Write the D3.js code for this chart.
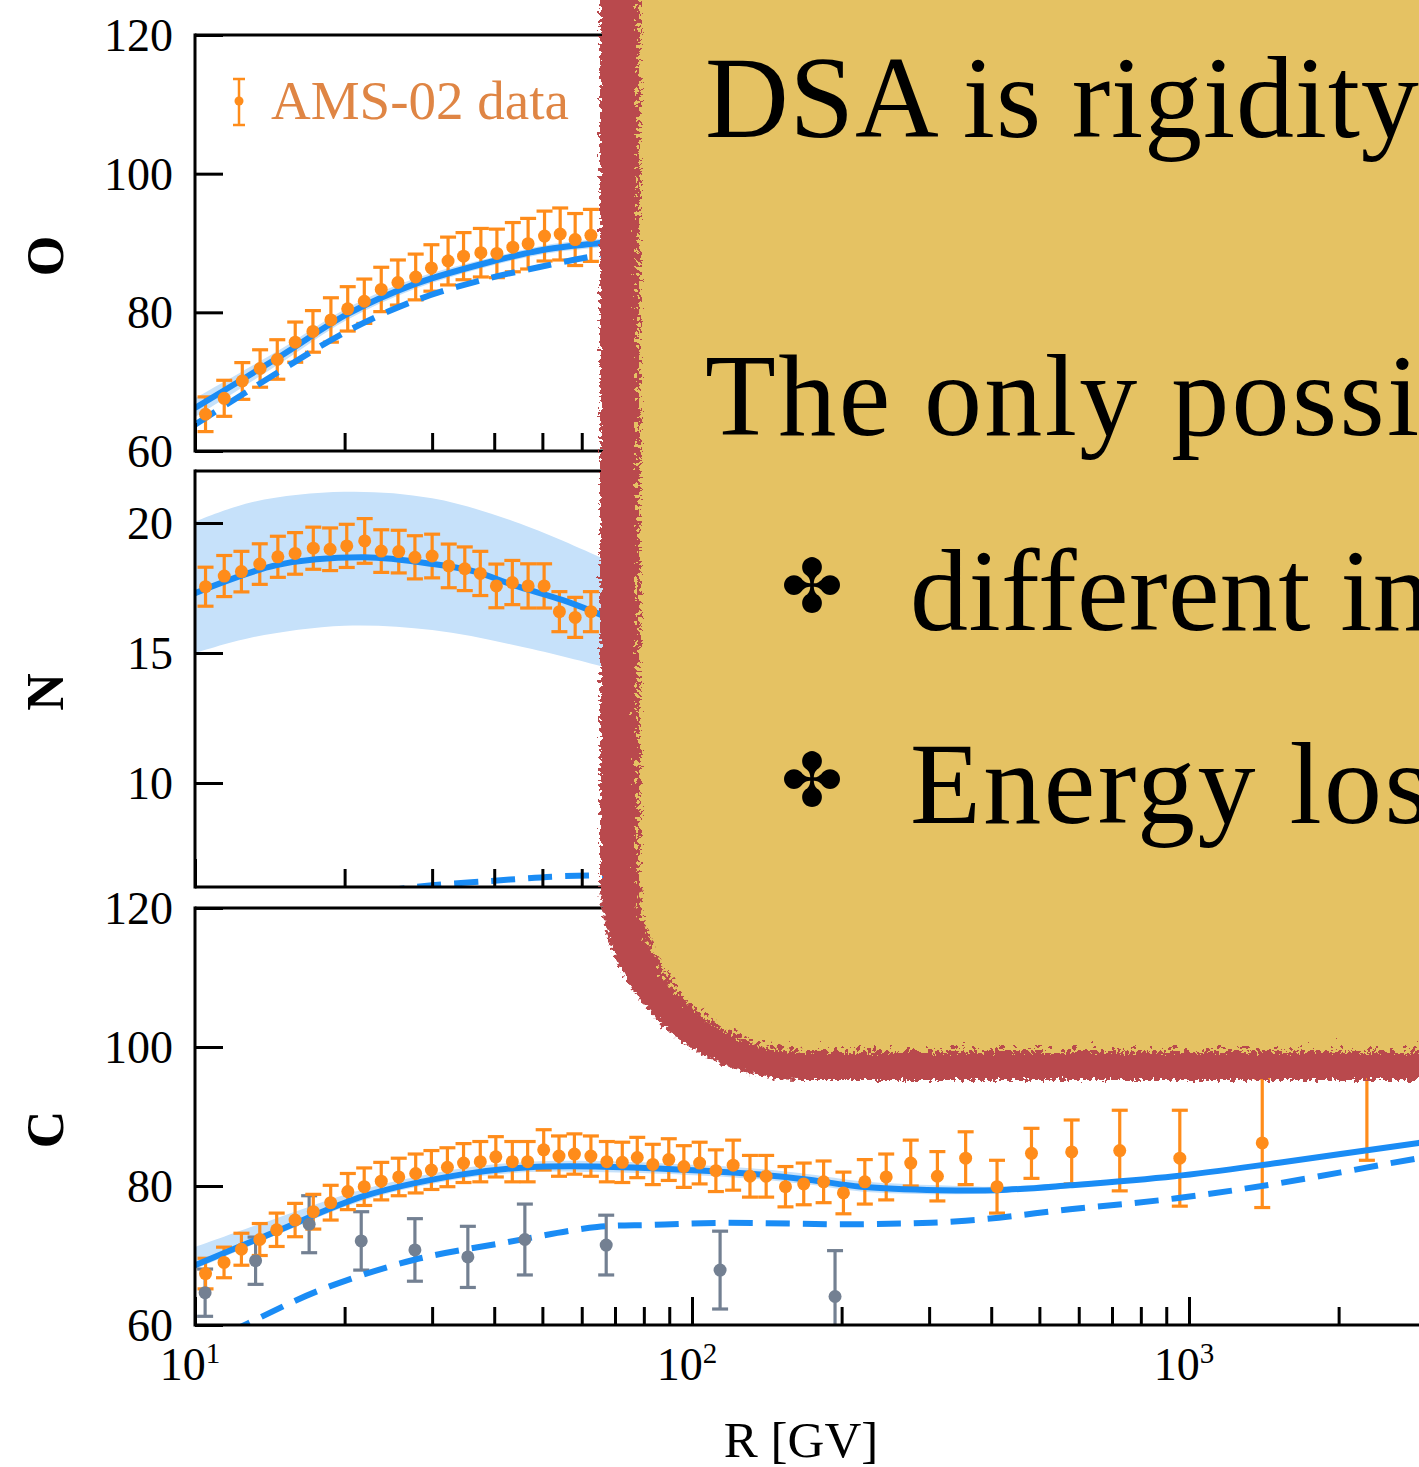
<!DOCTYPE html>
<html>
<head>
<meta charset="utf-8">
<script src="https://cdn.jsdelivr.net/npm/d3@7"></script>
<style>
  html, body { margin: 0; padding: 0; background: #fff; }
  svg { display: block; }
</style>
</head>
<body>
<svg id="chart" width="1419" height="1467"></svg>
<script>
// ---------------- data ----------------
// Oxygen flux ratio, AMS-02 points
const oxyR   = [10.5, 11.45, 12.45, 13.52, 14.64, 15.91, 17.27, 18.77, 20.29, 21.91, 23.7, 25.6, 27.8, 29.9, 32.3, 34.7, 37.6, 40.5, 43.6, 46.8, 50.5, 54.3, 58.2, 62.6];
const oxyVal = [65.3, 67.6, 70.1, 71.9, 73.2, 75.7, 77.25, 78.9, 80.5, 81.6, 83.3, 84.3, 85.1, 86.4, 87.4, 88.1, 88.6, 88.5, 89.4, 89.9, 91.0, 91.3, 90.5, 91.1];
const oxyErr = [2.5, 2.6, 2.65, 2.7, 2.85, 2.9, 3.0, 3.2, 3.2, 3.2, 3.2, 3.25, 3.3, 3.35, 3.45, 3.4, 3.5, 3.5, 3.55, 3.65, 3.6, 3.75, 3.75, 3.75];
// Oxygen model curves
const oxyModelR  = [10, 14.8, 20.2, 27.5, 37.5, 51, 65.3, 75];
const oxyModel   = [66.2, 73.6, 79.7, 84.0, 86.9, 89.1, 90.0, 90.6];
const oxyBandLo  = [64.9, 72.6, 78.9, 83.3, 86.3, 88.5, 89.4, 90.0];
const oxyBandHi  = [67.6, 74.6, 80.6, 84.8, 87.5, 89.7, 90.6, 91.2];
const oxyDashed  = [63.8, 71.5, 77.25, 81.6, 84.6, 86.75, 88.25, 88.8];

// Nitrogen
const nitR   = [10.5, 11.45, 12.4, 13.5, 14.68, 15.9, 17.3, 18.7, 20.2, 21.95, 23.7, 25.7, 27.7, 30.0, 32.4, 34.9, 37.5, 40.4, 43.5, 46.8, 50.4, 54.1, 58.2, 62.6];
const nitVal = [17.55, 17.96, 18.13, 18.42, 18.7, 18.83, 19.03, 18.99, 19.12, 19.31, 18.92, 18.9, 18.68, 18.73, 18.35, 18.24, 18.06, 17.58, 17.71, 17.58, 17.58, 16.59, 16.37, 16.59];
const nitErr = [0.75, 0.79, 0.78, 0.78, 0.79, 0.8, 0.81, 0.82, 0.83, 0.86, 0.82, 0.82, 0.83, 0.84, 0.84, 0.84, 0.85, 0.84, 0.85, 0.85, 0.85, 0.77, 0.77, 0.77];
const nitModelR = [10, 14.6, 21.9, 30.4, 36.6, 43.9, 54.8, 63.1, 75];
const nitModel  = [17.3, 18.38, 18.68, 18.41, 18.13, 17.6, 17.04, 16.6, 16.0];
const nitBandR  = [10, 13, 20, 30, 44, 66.9, 80];
const nitBandLo = [15.0, 15.6, 16.05, 15.88, 15.3, 14.45, 14.0];
const nitBandHi = [20.05, 20.8, 21.2, 20.95, 20.05, 18.6, 17.9];
const nitDashR  = [20, 25, 30, 40, 52.7, 65.6, 80];
const nitDashed = [5.5, 5.88, 6.07, 6.24, 6.4, 6.46, 6.55];

// Carbon, AMS-02 points
const carR   = [10.5, 11.44, 12.4, 13.5, 14.6, 15.9, 17.3, 18.75, 20.3, 21.9, 23.7, 25.7, 27.8, 29.9, 32.2, 34.7, 37.5, 40.3, 43.5, 46.7, 50.3, 54.0, 58.0, 62.6, 67.4, 72.4, 77.6, 83.4, 89.8, 96.3, 103.6, 111.7, 121, 130.8, 141, 154.2, 167.8, 184, 201.7, 222.7, 245.9, 275.5, 311.7, 355.3, 410.9, 482, 580.7, 725.5, 958.3, 1404, 2280];
const carVal = [67.4, 69.0, 70.9, 72.3, 73.7, 75.1, 76.3, 77.6, 79.2, 79.9, 80.7, 81.3, 81.8, 82.3, 82.7, 83.3, 83.5, 84.2, 83.5, 83.5, 85.2, 84.3, 84.6, 84.3, 83.5, 83.4, 84.1, 83.1, 83.8, 82.8, 83.3, 82.2, 83.0, 81.4, 81.4, 79.9, 80.3, 80.6, 79.0, 80.6, 81.3, 83.3, 81.4, 84.0, 79.9, 84.7, 84.9, 85.1, 84.0, 86.2, 98.0];
const carErr = [2.2, 2.2, 2.3, 2.3, 2.4, 2.4, 2.5, 2.5, 2.6, 2.7, 2.7, 2.7, 2.8, 2.8, 2.8, 2.8, 2.9, 2.9, 2.9, 2.9, 2.9, 2.9, 2.9, 2.9, 2.9, 2.9, 2.9, 2.9, 3.0, 3.0, 3.0, 3.0, 3.6, 3.0, 3.0, 2.9, 3.0, 3.0, 3.0, 3.2, 3.3, 3.3, 3.55, 3.8, 3.8, 3.6, 4.6, 5.8, 6.9, 9.3, 14.3];
// Carbon, second data set (grey)
const carOtherR   = [10.48, 13.24, 16.97, 21.6, 27.7, 35.4, 46.1, 67.2, 113.9, 194];
const carOtherVal = [64.65, 69.25, 74.5, 72.1, 70.8, 69.8, 72.3, 71.5, 67.9, 64.1];
const carOtherErr = [3.4, 3.4, 4.1, 4.2, 4.5, 4.4, 5.1, 4.3, 5.6, 6.6];
// Carbon model curves
const carModelR = [10, 14.5, 22, 34, 47, 64, 98, 135, 172, 219, 315, 411, 576, 935, 1517, 2900, 4000];
const carModel  = [68.6, 73.4, 78.6, 81.6, 82.7, 82.8, 82.3, 81.7, 80.9, 79.9, 79.4, 79.4, 80.1, 81.4, 83.35, 86.2, 87.6];
const carBandLo = [68.0, 72.9, 78.0, 81.0, 82.0, 82.0, 81.6, 81.0, 80.2, 79.2, 78.8, 79.0, 79.8, 81.1, 83.1, 86.0, 87.4];
const carBandHi = [71.2, 75.3, 79.6, 82.5, 83.5, 83.6, 83.1, 82.5, 81.7, 80.7, 80.1, 79.9, 80.5, 81.7, 83.6, 86.4, 87.8];
const carDashR  = [10, 12.78, 17.96, 27.5, 42, 64.4, 83.1, 113.8, 219, 355, 576, 935, 1517, 2900, 4000];
const carDashed = [56.5, 60.24, 65.1, 69.35, 71.85, 74.1, 74.4, 74.7, 74.5, 75.0, 76.65, 78.2, 80.4, 84.0, 85.6];

// axis ticks
const majorR = [10, 100, 1000];
const minorR = [20, 30, 40, 50, 60, 70, 80, 90, 200, 300, 400, 500, 600, 700, 800, 900, 2000, 3000, 4000, 5000, 6000, 7000, 8000, 9000];
const oxyTicks = [60, 80, 100, 120];
const nitTicks = [10, 15, 20];
const carTicks = [60, 80, 100, 120];

// callout text
const calloutLines = ["DSA is rigidity dependent", "The only possibility", "different injection", "Energy losses"];

// ---------------- drawing ----------------
const W = 1419, H = 1467;
const SERIF = "'Liberation Serif', 'Times New Roman', serif";
const ORANGE = "#ff8c1a", GREY = "#738092", BLUE = "#1a8cf5";
const LEFT = 195;

const svg = d3.select("#chart");
const defs = svg.append("defs");

// shared rigidity axis
const x = d3.scaleLog().domain([10, 1e4]).range([LEFT, 1686]);

const panels = [
  { key: "O", title: "O", top: 35, bottom: 451, domain: [60, 120], ticks: oxyTicks,
    bandR: oxyModelR, bandLo: oxyBandLo, bandHi: oxyBandHi,
    dashR: oxyModelR, dash: oxyDashed, solidR: oxyModelR, solid: oxyModel,
    sets: [{ r: oxyR, v: oxyVal, e: oxyErr, color: ORANGE }] },
  { key: "N", title: "N", top: 471, bottom: 887, domain: [6, 22], ticks: nitTicks,
    bandR: nitBandR, bandLo: nitBandLo, bandHi: nitBandHi,
    dashR: nitDashR, dash: nitDashed, solidR: nitModelR, solid: nitModel,
    sets: [{ r: nitR, v: nitVal, e: nitErr, color: ORANGE }] },
  { key: "C", title: "C", top: 908, bottom: 1325, domain: [60, 120], ticks: carTicks,
    bandR: carModelR, bandLo: carBandLo, bandHi: carBandHi,
    dashR: carDashR, dash: carDashed, solidR: carModelR, solid: carModel,
    sets: [{ r: carOtherR, v: carOtherVal, e: carOtherErr, color: GREY },
           { r: carR, v: carVal, e: carErr, color: ORANGE }] }
];

panels.forEach(p => {
  const y = d3.scaleLinear().domain(p.domain).range([p.bottom, p.top]);
  const g = svg.append("g").attr("class", "panel-" + p.key);

  defs.append("clipPath").attr("id", "clip-" + p.key)
    .append("rect").attr("x", LEFT).attr("y", p.top)
    .attr("width", W - LEFT + 400).attr("height", p.bottom - p.top);
  const plot = g.append("g").attr("clip-path", `url(#clip-${p.key})`);

  // uncertainty band
  plot.append("path")
    .datum(d3.zip(p.bandR, p.bandLo, p.bandHi))
    .attr("d", d3.area().x(d => x(d[0])).y0(d => y(d[1])).y1(d => y(d[2])).curve(d3.curveCatmullRom))
    .attr("fill", "#c6e1fa");

  // error bars (stems + caps)
  p.sets.forEach(s => {
    const pts = d3.zip(s.r, s.v, s.e);
    const bars = plot.append("g").attr("stroke", s.color).attr("stroke-width", 3.2).attr("fill", "none");
    bars.selectAll("line.stem").data(pts).join("line").attr("class", "stem")
      .attr("x1", d => x(d[0])).attr("x2", d => x(d[0]))
      .attr("y1", d => y(d[1] - d[2])).attr("y2", d => y(d[1] + d[2]));
    bars.selectAll("line.capHi").data(pts).join("line").attr("class", "capHi")
      .attr("x1", d => x(d[0]) - 8).attr("x2", d => x(d[0]) + 8)
      .attr("y1", d => y(d[1] + d[2])).attr("y2", d => y(d[1] + d[2]));
    bars.selectAll("line.capLo").data(pts).join("line").attr("class", "capLo")
      .attr("x1", d => x(d[0]) - 8).attr("x2", d => x(d[0]) + 8)
      .attr("y1", d => y(d[1] - d[2])).attr("y2", d => y(d[1] - d[2]));
  });

  // model curves
  const line = d3.line().x(d => x(d[0])).y(d => y(d[1])).curve(d3.curveCatmullRom);
  plot.append("path").datum(d3.zip(p.dashR, p.dash)).attr("d", line)
    .attr("fill", "none").attr("stroke", BLUE).attr("stroke-width", 6)
    .attr("stroke-dasharray", "24 13");
  plot.append("path").datum(d3.zip(p.solidR, p.solid)).attr("d", line)
    .attr("fill", "none").attr("stroke", BLUE).attr("stroke-width", 6);

  // data dots
  p.sets.forEach(s => {
    plot.append("g").selectAll("circle").data(d3.zip(s.r, s.v)).join("circle")
      .attr("cx", d => x(d[0])).attr("cy", d => y(d[1])).attr("r", 6.5)
      .attr("fill", s.color);
  });

  // frame
  const frame = g.append("g").attr("stroke", "#000").attr("stroke-width", 3);
  frame.append("line").attr("x1", LEFT).attr("x2", W + 10).attr("y1", p.top).attr("y2", p.top);
  frame.append("line").attr("x1", LEFT).attr("x2", W + 10).attr("y1", p.bottom).attr("y2", p.bottom);
  frame.append("line").attr("x1", LEFT).attr("x2", LEFT).attr("y1", p.top - 1.5).attr("y2", p.bottom + 1.5);

  // y axis (inward ticks)
  const ya = g.append("g").attr("transform", `translate(${LEFT},0)`)
    .call(d3.axisLeft(y).tickValues(p.ticks).tickSize(-28).tickPadding(22).tickFormat(d3.format("d")));
  ya.select(".domain").remove();
  ya.selectAll(".tick line").attr("stroke", "#000").attr("stroke-width", 3);
  ya.selectAll(".tick text").attr("font-family", SERIF).attr("font-size", 46)
    .attr("fill", "#000").attr("dy", "0.34em");

  // x axis ticks along the bottom of each panel
  const xaMinor = g.append("g").attr("transform", `translate(0,${p.bottom})`)
    .call(d3.axisBottom(x).tickValues(minorR).tickSize(-18).tickFormat(""));
  const xaMajor = g.append("g").attr("transform", `translate(0,${p.bottom})`)
    .call(d3.axisBottom(x).tickValues(majorR).tickSize(-28).tickFormat(""));
  [xaMinor, xaMajor].forEach(a => {
    a.select(".domain").remove();
    a.selectAll(".tick line").attr("stroke", "#000").attr("stroke-width", 3);
  });

  // panel title
  const cy = (p.top + p.bottom) / 2 + 13;
  g.append("text")
    .attr("transform", `translate(63,${cy}) rotate(-90)`)
    .attr("text-anchor", "middle")
    .attr("font-family", SERIF).attr("font-size", 52).attr("font-weight", "bold")
    .attr("fill", "#000").text(p.title);

  if (p.key === "C") {
    // decade labels with superscript exponents
    majorR.forEach(r => {
      const t = g.append("text").attr("x", x(r) - 5).attr("y", 1380)
        .attr("text-anchor", "middle").attr("font-family", SERIF)
        .attr("font-size", 46).attr("fill", "#000");
      t.append("tspan").text("10");
      t.append("tspan").attr("font-size", 29).attr("dy", -17).text(Math.round(Math.log10(r)));
    });
    g.append("text").attr("x", 801).attr("y", 1457).attr("text-anchor", "middle")
      .attr("font-family", SERIF).attr("font-size", 51).attr("fill", "#000").text("R [GV]");
  }

  if (p.key === "O") {
    // legend entry
    const lg = g.append("g");
    lg.append("line").attr("x1", 239).attr("x2", 239).attr("y1", 79).attr("y2", 125)
      .attr("stroke", ORANGE).attr("stroke-width", 2.5);
    lg.append("line").attr("x1", 233).attr("x2", 245).attr("y1", 79).attr("y2", 79)
      .attr("stroke", ORANGE).attr("stroke-width", 2.5);
    lg.append("line").attr("x1", 233).attr("x2", 245).attr("y1", 125).attr("y2", 125)
      .attr("stroke", ORANGE).attr("stroke-width", 2.5);
    lg.append("circle").attr("cx", 239).attr("cy", 101).attr("r", 4.5).attr("fill", ORANGE);
    lg.append("text").attr("x", 271).attr("y", 119)
      .attr("font-family", SERIF).attr("font-size", 55).attr("fill", "#df8544")
      .text("AMS-02 data");
  }
});

// ---------------- callout box ----------------
const rough = defs.append("filter").attr("id", "ragged")
  .attr("x", "-3%").attr("y", "-3%").attr("width", "106%").attr("height", "106%");
rough.append("feTurbulence").attr("type", "fractalNoise").attr("baseFrequency", "0.25")
  .attr("numOctaves", 3).attr("seed", 7).attr("result", "n");
rough.append("feDisplacementMap").attr("in", "SourceGraphic").attr("in2", "n")
  .attr("scale", 11).attr("xChannelSelector", "R").attr("yChannelSelector", "G");

const speck = defs.append("filter").attr("id", "speckle")
  .attr("x", "-3%").attr("y", "-3%").attr("width", "106%").attr("height", "106%");
speck.append("feTurbulence").attr("type", "turbulence").attr("baseFrequency", "0.18")
  .attr("numOctaves", 2).attr("seed", 3).attr("result", "n");
speck.append("feDisplacementMap").attr("in", "SourceGraphic").attr("in2", "n")
  .attr("scale", 20).attr("xChannelSelector", "R").attr("yChannelSelector", "G");

const box = svg.append("g").attr("class", "callout");
box.append("rect").attr("x", 600).attr("y", -400).attr("width", 1400).attr("height", 1480)
  .attr("rx", 200).attr("fill", "#b94a4d").attr("filter", "url(#ragged)");
box.append("rect").attr("x", 634).attr("y", -400).attr("width", 1400).attr("height", 1446)
  .attr("rx", 166).attr("fill", "#e5c264").attr("filter", "url(#speckle)");

const textSlots = [
  { x: 705, y: 137, spacing: 0.8 },
  { x: 705, y: 435, spacing: 2.4 },
  { x: 910, y: 630, spacing: 0.4 },
  { x: 910, y: 823, spacing: 2.5 }
];
const boxText = box.append("g").attr("font-family", SERIF).attr("font-size", 116).attr("fill", "#000");
calloutLines.forEach((t, i) => {
  boxText.append("text").attr("x", textSlots[i].x).attr("y", textSlots[i].y)
    .attr("letter-spacing", textSlots[i].spacing).text(t);
});
[612, 806].forEach(by => {
  box.append("text").attr("x", 812).attr("y", by).attr("text-anchor", "middle")
    .attr("font-family", "'DejaVu Sans', sans-serif").attr("font-size", 74)
    .attr("fill", "#000").text("\u2724");
});
</script>
</body>
</html>
